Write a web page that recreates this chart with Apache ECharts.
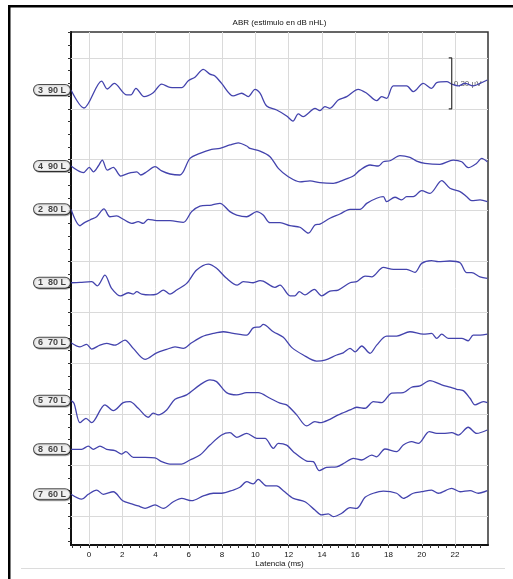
<!DOCTYPE html>
<html>
<head>
<meta charset="utf-8">
<script src="https://cdn.jsdelivr.net/npm/echarts@6/dist/echarts.min.js"></script>
<style>
  html, body { margin: 0; padding: 0; background: #fff; }
  #chart { width: 513px; height: 579px; }
</style>
</head>
<body>
<div id="chart"></div>
<script>
// ABR recordings: trace id, stimulus level (dB nHL) and ear
const traceLabels = ['3  90 L', '4  90 L', '2  80 L', '1  80 L', '6  70 L', '5  70 L', '8  60 L', '7  60 L'];
// baseline (µV) at which each trace is stacked
const traceBaselines = [2.511, 2.063, 1.808, 1.375, 1.021, 0.680, 0.393, 0.128];

// [latency ms, amplitude µV relative to the trace start]
const wave3 = [[-1.08,0],[-0.30,-0.106],[0.76,0.053],[1.10,0.006],[1.52,0.039],[2.27,-0.029],[2.52,-0.029],[2.82,0.010],[3.31,-0.039],[3.86,-0.016],[4.37,0.035],[4.87,0.016],[5.57,0.014],[5.97,0.055],[6.37,0.075],[6.87,0.122],[7.27,0.094],[7.57,0.083],[7.97,0.039],[8.67,-0.035],[9.18,-0.019],[9.57,-0.039],[9.98,0.004],[10.28,-0.019],[10.68,-0.094],[11.28,-0.118],[11.88,-0.153],[12.26,-0.183],[12.58,-0.141],[12.88,-0.157],[13.18,-0.137],[13.58,-0.108],[13.88,-0.122],[14.18,-0.098],[14.48,-0.108],[14.98,-0.059],[15.49,-0.039],[16.18,0.004],[16.69,-0.019],[17.29,-0.063],[17.59,-0.039],[17.89,-0.049],[18.29,0.024],[19.09,0.024],[19.49,-0.010],[20.09,0.039],[20.59,0.010],[20.90,0.043],[21.50,0.049],[21.80,0.035],[22.19,0.024],[22.60,0.039],[23.09,0.024],[23.50,0.039],[23.94,0.059]];
const wave4 = [[-1.08,0],[-0.34,-0.039],[0.02,-0.008],[0.26,-0.034],[0.56,0],[0.80,0.035],[1.10,-0.024],[1.46,-0.008],[1.91,-0.059],[2.36,-0.043],[2.87,-0.034],[3.11,-0.053],[3.47,-0.034],[3.97,-0.004],[4.37,-0.029],[4.87,-0.047],[5.47,-0.053],[6.07,0.045],[6.67,0.075],[7.37,0.098],[7.87,0.104],[8.47,0.124],[8.97,0.137],[9.48,0.118],[9.68,0.104],[10.28,0.088],[10.88,0.055],[11.38,-0.014],[11.98,-0.063],[12.68,-0.093],[13.28,-0.087],[13.88,-0.098],[14.68,-0.102],[15.28,-0.083],[15.88,-0.059],[16.29,-0.024],[16.89,0.006],[17.39,0],[17.69,0.025],[18.09,0.031],[18.69,0.061],[19.29,0.051],[19.69,0.029],[20.19,0.016],[21.09,0.010],[21.89,0.035],[22.40,0.025],[22.79,-0.010],[23.30,0.016],[23.60,0.045],[23.94,0.025]];
const wave2 = [[-1.08,0],[-0.54,-0.097],[-0.34,-0.083],[0.06,-0.063],[0.46,-0.044],[0.90,0.002],[1.26,-0.044],[1.66,-0.039],[2.06,-0.059],[2.57,-0.083],[2.96,-0.073],[3.26,-0.083],[3.56,-0.059],[4.07,-0.067],[4.87,-0.067],[5.67,-0.077],[6.17,-0.014],[6.67,0.019],[7.37,0.025],[7.87,0.035],[8.47,-0.014],[8.88,-0.034],[9.48,-0.044],[10.08,-0.014],[10.47,-0.034],[10.88,-0.079],[11.48,-0.079],[12.08,-0.097],[12.68,-0.106],[13.18,-0.141],[13.58,-0.093],[13.88,-0.087],[14.48,-0.053],[15.08,-0.028],[15.69,0],[16.29,0],[16.69,0.035],[17.29,0.065],[17.69,0.074],[17.89,0.045],[18.39,0.071],[18.79,0.055],[19.09,0.074],[19.49,0.074],[19.99,0.110],[20.49,0.094],[21.20,0.169],[21.69,0.124],[22.30,0.104],[22.70,0.074],[23.00,0.051],[23.50,0.055],[23.94,0.045]];
const wave1 = [[-1.08,0],[-0.54,0.002],[0.16,0.006],[0.50,-0.018],[0.96,0.045],[1.36,-0.033],[1.91,-0.078],[2.36,-0.059],[2.66,-0.067],[2.87,-0.053],[3.17,-0.067],[3.67,-0.072],[4.07,-0.067],[4.47,-0.043],[4.87,-0.067],[5.27,-0.043],[5.87,-0.004],[6.47,0.075],[7.17,0.110],[7.67,0.085],[8.27,0.026],[8.91,-0.014],[9.27,0.006],[9.87,0],[10.28,0.012],[10.47,0.010],[11.18,-0.027],[11.48,-0.014],[12.08,-0.077],[12.38,-0.077],[12.64,-0.053],[12.98,-0.072],[13.54,-0.039],[13.98,-0.077],[14.48,-0.049],[14.98,-0.043],[15.69,0],[16.09,0.006],[16.59,0.039],[16.99,0.035],[17.69,0.091],[18.29,0.079],[19.09,0.079],[19.59,0.061],[19.99,0.114],[20.59,0.130],[20.99,0.124],[21.69,0.128],[22.30,0.118],[22.70,0.059],[23.00,0.059],[23.50,0.035],[23.94,0.026]];
const wave6 = [[-1.08,0],[-0.54,-0.024],[-0.14,-0.009],[0.16,-0.037],[0.66,-0.014],[1.06,-0.004],[1.56,-0.014],[2.16,0.016],[2.66,-0.033],[3.37,-0.098],[4.07,-0.059],[4.67,-0.039],[5.17,-0.024],[5.67,-0.033],[6.17,0],[6.77,0.035],[7.47,0.055],[8.07,0.065],[8.67,0.055],[9.48,0.045],[9.87,0.088],[10.28,0.094],[10.47,0.108],[11.08,0.065],[11.68,0.032],[12.18,-0.027],[12.88,-0.072],[13.68,-0.108],[14.18,-0.102],[14.89,-0.072],[15.28,-0.059],[15.69,-0.033],[15.99,-0.053],[16.39,-0.019],[16.89,-0.062],[17.29,-0.014],[17.89,0.039],[18.49,0.039],[19.29,0.065],[20.09,0.051],[20.59,0.055],[20.90,0.026],[21.20,0.051],[21.59,0.026],[22.40,0.026],[22.79,0.012],[23.09,0.045],[23.50,0.045],[23.94,0.051]];
const wave5 = [[-1.08,0],[-0.90,-0.015],[-0.54,-0.130],[-0.18,-0.104],[0.16,-0.130],[0.96,-0.025],[1.46,-0.059],[2.06,-0.012],[2.46,-0.006],[2.96,-0.045],[3.56,-0.098],[3.86,-0.074],[4.16,-0.084],[4.67,-0.055],[5.17,0.008],[5.87,0.034],[6.67,0.093],[7.27,0.122],[7.67,0.112],[8.27,0.047],[8.88,0.034],[9.48,0.047],[10.17,0.047],[10.88,0.014],[11.48,-0.015],[11.88,-0.025],[12.48,-0.084],[13.08,-0.149],[13.58,-0.124],[13.88,-0.130],[14.48,-0.110],[14.98,-0.084],[15.69,-0.055],[16.09,-0.039],[16.59,-0.045],[17.09,-0.006],[17.59,-0.012],[18.19,0.044],[18.89,0.047],[19.39,0.079],[19.89,0.087],[20.49,0.118],[21.20,0.093],[21.69,0.079],[22.10,0.067],[22.49,0.059],[22.90,0.014],[23.20,-0.025],[23.70,-0.006],[23.94,-0.012]];
const wave8 = [[-1.08,0],[-0.44,0],[-0.04,0.019],[0.26,0],[0.66,0.019],[1.06,0],[1.56,-0.008],[1.97,-0.028],[2.22,-0.014],[2.66,-0.047],[3.37,-0.047],[3.97,-0.050],[4.37,-0.073],[4.87,-0.087],[5.57,-0.087],[6.07,-0.063],[6.67,-0.034],[7.27,0.025],[7.97,0.084],[8.47,0.098],[8.88,0.071],[9.48,0.094],[10.08,0.065],[10.58,0.065],[11.08,0.006],[11.38,0.035],[11.88,0.025],[12.28,-0.014],[13.08,-0.069],[13.48,-0.073],[13.84,-0.126],[14.28,-0.106],[14.89,-0.103],[15.38,-0.079],[15.88,-0.053],[16.39,-0.063],[16.99,-0.034],[17.29,-0.044],[17.79,0.002],[18.49,-0.014],[18.89,0.025],[19.39,0.045],[19.79,0.035],[20.45,0.104],[20.90,0.094],[21.29,0.094],[21.80,0.098],[22.19,0.084],[22.79,0.130],[23.30,0.094],[23.94,0.114]];
const wave7 = [[-1.08,0],[-0.44,-0.029],[-0.04,0],[0.46,0.025],[0.86,0],[1.46,0.015],[2.03,-0.038],[2.57,-0.057],[2.96,-0.069],[3.37,-0.083],[3.97,-0.063],[4.47,-0.083],[5.07,-0.044],[5.57,-0.024],[6.17,-0.038],[6.87,-0.010],[7.47,0.006],[7.97,0.006],[8.67,0.025],[9.07,0.041],[9.48,0.074],[9.87,0.061],[10.17,0.088],[10.68,0.049],[11.28,0.049],[11.68,0.021],[12.28,-0.024],[12.98,-0.044],[13.58,-0.093],[13.98,-0.122],[14.38,-0.116],[14.68,-0.132],[15.19,-0.112],[15.69,-0.079],[16.09,-0.083],[16.59,-0.018],[17.09,0.006],[17.69,0.019],[18.49,0.006],[18.89,-0.024],[19.49,0.006],[19.99,0.015],[20.59,0.025],[20.99,0.006],[21.80,0.035],[22.30,0.015],[22.90,0.021],[23.40,0.006],[23.94,0.021]];
const waves = [wave3, wave4, wave2, wave1, wave6, wave5, wave8, wave7];

// latency axis (ms)
const latencyMin = -1.08, latencyMax = 23.98;
const latencyLabels = [0, 2, 4, 6, 8, 10, 12, 14, 16, 18, 20, 22];
// amplitude axis (µV)
const amplitudeMin = -0.171, amplitudeMax = 2.853;
const amplitudeGrid = [0, 0.3, 0.6, 0.9, 1.2, 1.5, 1.8, 2.1, 2.4, 2.7];

// calibration bar
const scaleBar = { latency: 21.8, from: 2.4, size: 0.30, text: '0,30 µV' };

const latencyMinorTicks = [];
for (let t = -1; t <= 23.5; t += 0.5) latencyMinorTicks.push(t);
const amplitudeMinorTicks = [];
for (let k = -2; k <= 38; k++) amplitudeMinorTicks.push(+(k * 0.075).toFixed(3));

const traceColor = '#4343ad';
const gridColor = '#dadada';
const font = 'Liberation Sans, Arial, sans-serif';

const series = [];

// background grid lines
series.push({
  type: 'line', data: [], silent: true, z: 1,
  markLine: {
    silent: true, symbol: 'none', animation: false, z: 1,
    label: { show: false },
    emphasis: { disabled: true },
    lineStyle: { color: gridColor, width: 1, type: 'solid' },
    data: latencyLabels.map(v => ({ xAxis: v }))
      .concat(amplitudeGrid.map(v => ({ yAxis: v })))
  }
});

// waveforms
waves.forEach((w, i) => {
  series.push({
    name: traceLabels[i],
    type: 'line', z: 6,
    data: w.map(p => [p[0], +(traceBaselines[i] + p[1]).toFixed(4)]),
    smooth: 0.3,
    showSymbol: false,
    lineStyle: { color: traceColor, width: 1.3 },
    animation: false
  });
});

// trace tags at the start of each waveform
series.push({
  type: 'scatter', z: 8, symbolSize: 0, animation: false, silent: true,
  data: waves.map((w, i) => ({
    value: [w[0][0], traceBaselines[i] + w[0][1]],
    name: traceLabels[i]
  })),
  label: {
    show: true, position: 'left', distance: 1,
    formatter: p => p.name,
    fontFamily: font, fontSize: 9, fontWeight: 'bold', color: '#111',
    backgroundColor: '#fff', borderColor: '#222', borderWidth: 1,
    borderRadius: 5, padding: [1, 4, 0, 4],
    shadowColor: 'rgba(0,0,0,0.35)', shadowOffsetX: 1, shadowOffsetY: 1, shadowBlur: 0
  }
});

// calibration bracket
const tickLen = 0.18;
series.push({
  type: 'line', z: 7, animation: false, silent: true, showSymbol: false,
  data: [
    [scaleBar.latency - tickLen, scaleBar.from + scaleBar.size],
    [scaleBar.latency, scaleBar.from + scaleBar.size],
    [scaleBar.latency, scaleBar.from],
    [scaleBar.latency - tickLen, scaleBar.from]
  ],
  lineStyle: { color: '#333', width: 1.2 }
});
series.push({
  type: 'scatter', z: 5, symbolSize: 0, animation: false, silent: true,
  data: [[scaleBar.latency, scaleBar.from + scaleBar.size / 2]],
  label: {
    show: true, position: 'right', distance: 2,
    formatter: scaleBar.text,
    fontFamily: font, fontSize: 8, color: '#333'
  }
});

const chart = echarts.init(document.getElementById('chart'), null, { renderer: 'canvas' });
chart.setOption({
  backgroundColor: '#fff',
  animation: false,
  grid: {
    left: 71, right: 25, top: 32, bottom: 34,
    show: true, borderColor: '#333', borderWidth: 1.5, backgroundColor: 'transparent'
  },
  xAxis: {
    type: 'value', min: latencyMin, max: latencyMax,
    axisLine: { show: true, onZero: false, lineStyle: { color: '#111', width: 2 } },
    axisTick: { show: true, customValues: latencyMinorTicks, length: 3, inside: false, lineStyle: { color: '#333', width: 1 } },
    axisLabel: { show: true, customValues: latencyLabels, margin: 6, fontFamily: font, fontSize: 8, color: '#111' },
    splitLine: { show: false }
  },
  yAxis: {
    type: 'value', min: amplitudeMin, max: amplitudeMax,
    axisLine: { show: true, onZero: false, lineStyle: { color: '#111', width: 2 } },
    axisTick: { show: true, customValues: amplitudeMinorTicks, length: 3, inside: false, lineStyle: { color: '#333', width: 1 } },
    axisLabel: { show: false },
    splitLine: { show: false }
  },
  graphic: [
    { type: 'rect', shape: { x: 8, y: 5, width: 505, height: 2.5 }, style: { fill: '#000' }, z: 10 },
    { type: 'rect', shape: { x: 8, y: 5, width: 2.5, height: 574 }, style: { fill: '#000' }, z: 10 },
    { type: 'line', shape: { x1: 21, y1: 568.5, x2: 505, y2: 568.5 }, style: { stroke: '#dcdcdc', lineWidth: 1 }, z: 10 },
    { type: 'text', x: 279.5, y: 23, style: { text: 'ABR (estimulo en dB nHL)', font: '8px ' + font, fill: '#111', textAlign: 'center', textVerticalAlign: 'middle' }, z: 10 },
    { type: 'text', x: 279.5, y: 564, style: { text: 'Latencia (ms)', font: '8px ' + font, fill: '#111', textAlign: 'center', textVerticalAlign: 'middle' }, z: 10 }
  ],
  series: series
});
</script>
</body>
</html>
